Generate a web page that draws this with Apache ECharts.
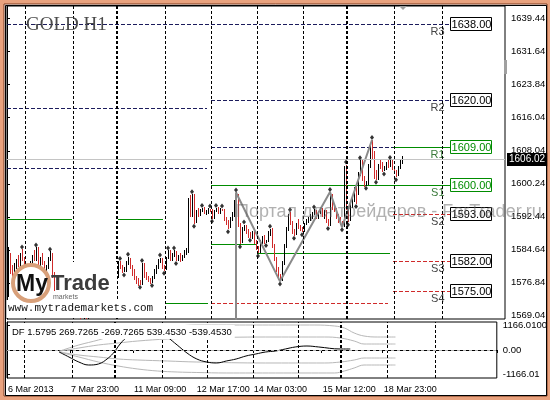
<!DOCTYPE html>
<html><head><meta charset="utf-8">
<script src="https://cdn.jsdelivr.net/npm/echarts@6/dist/echarts.min.js"></script>
<style>html,body{margin:0;padding:0;background:#fff}#c{width:550px;height:400px}</style>
</head><body><div id="c"></div><script>
// ---------- DATA ----------
const opens=[1575,1583,1580,1578.2,1581,1582,1581,1583.5,1582.5,1580,1578.5,1579.5,1581.5,1583,1582.5,1585,1581.5,1582.5,1581.5,1579,1580.5,1582.5,1583.5,1578.5,
1576,1575,1574,1573,1574,1573.5,1572,1573,1572.5,1571,1572,1570.5,1571,1565,1567,1569,1568.5,1570,1571.5,1570.5,1572,1573,1572.5,1574,1573.5,1575,1574.5,1576,1575,1576.5,1577,
1578.5,1581.5,1580.5,1579.5,1580,1581.8,1582.5,1580.5,1579,1578,1577,1576.8,1576.5,1581,1578.5,1578,1577.5,1577,1578,1579.5,1580.5,1582,1582.5,1580.5,1580,1582.8,1584.2,1582.5,1583.5,1584,1582.3,1583,1582.2,1583.2,1584,
1584.5,1596,1593,1597.5,1591.5,1593.5,1593,1594,1594.5,1593.4,1593.8,1594.2,1594,1592.3,1593.8,1594.5,1593.5,1594.2,1594,1592,1591,1590,1592,1593,1596,
1597.5,1590.5,1586.5,1589.5,1590.5,1589,1588,1587.8,1588.5,1586.3,1585,1584.3,1586.5,1587.5,1586.5,1586.7,1588.8,1589.5,1585.5,1582.5,1580,1578.2,
1577.5,1581.5,1585.5,1589.5,1592.5,1591,1589,1588.5,1590.5,1590,1589.5,1589,1590.8,1591.6,1592,1592.6,1593.2,1593.5,1592.5,1593.5,1594,1593,1593.5,1591.5,1590.5,1597.5,1594.5,1594,1592.5,1591.5,1591,
1590.3,1604,1594.5,1592,1595,1597,1599,1598,1602.5,1605.5,1601.5,1600,1600.2,1604.5,1609,1606.5,1602,1601.5,1604.5,1604.2,1603.5,1604,1605,1604.5,1605.5,1604,1603,1602.2,1604.2,1605.5];
const closes=[1583,1580,1578.2,1581,1582,1581,1583.5,1582.5,1580,1578.5,1579.5,1581.5,1583,1582.5,1585,1581.5,1582.5,1581.5,1579,1580.5,1582.5,1583.5,1578.5,1576,
1575,1574,1573,1574,1573.5,1572,1573,1572.5,1571,1572,1570.5,1571,1565,1567,1569,1568.5,1570,1571.5,1570.5,1572,1573,1572.5,1574,1573.5,1575,1574.5,1576,1575,1576.5,1577,1578.5,
1581.5,1580.5,1579.5,1580,1581.8,1582.5,1580.5,1579,1578,1577,1576.8,1576.5,1581,1578.5,1578,1577.5,1577,1578,1579.5,1580.5,1582,1582.5,1580.5,1580,1582.8,1584.2,1582.5,1583.5,1584,1582.3,1583,1582.2,1583.2,1584,1584.5,
1596,1593,1597.5,1591.5,1593.5,1593,1594,1594.5,1593.4,1593.8,1594.2,1594,1592.3,1593.8,1594.5,1593.5,1594.2,1594,1592,1591,1590,1592,1593,1596,1597.5,
1590.5,1586.5,1589.5,1590.5,1589,1588,1587.8,1588.5,1586.3,1585,1584.3,1586.5,1587.5,1586.5,1586.7,1588.8,1589.5,1585.5,1582.5,1580,1578.2,1577.5,
1581.5,1585.5,1589.5,1592.5,1591,1589,1588.5,1590.5,1590,1589.5,1589,1590.8,1591.6,1592,1592.6,1593.2,1593.5,1592.5,1593.5,1594,1593,1593.5,1591.5,1590.5,1597.5,1594.5,1594,1592.5,1591.5,1591,1590.3,
1604,1594.5,1592,1595,1597,1599,1598,1602.5,1605.5,1601.5,1600,1600.2,1604.5,1609,1606.5,1602,1601.5,1604.5,1604.2,1603.5,1604,1605,1604.5,1605.5,1604,1603,1602.2,1604.2,1605.5,1606.02];
const highs=[1585.2,1583.8,1581,1581.5,1582.5,1583.5,1584,1584.8,1583,1581,1580,1582,1583.5,1584.5,1585.3,1585.2,1583,1584,1582,1581,1583,1584.3,1584,1579.5,
1577,1576,1575,1574.8,1574.8,1574.2,1573.8,1573.6,1573.2,1572.8,1572.6,1571.8,1572,1567.8,1569.8,1570,1570.8,1572.2,1572.3,1572.8,1573.6,1573.8,1574.6,1574.8,1575.7,1575.8,1576.8,1576.7,1577.2,1577.6,1578.8,
1582,1582,1581,1580.5,1582,1583,1582.8,1581,1580,1578.5,1578,1577.5,1581.5,1581.5,1579.5,1578.5,1578,1578.5,1580,1581,1582.5,1582.8,1582.8,1581,1583,1584.5,1584.5,1584,1584.5,1584.3,1583.5,1583.8,1583.5,1584.5,1585,
1597,1597.5,1597.8,1597.8,1594,1594.5,1594.2,1594.6,1594.8,1594,1594.5,1594.4,1594.3,1594,1594.6,1594.8,1594.5,1594.4,1594.2,1592.5,1591.8,1592.5,1593.5,1596.5,1598.2,
1597.8,1591,1590,1590.6,1590.6,1589.5,1588.8,1589,1589,1587,1585.5,1587,1588,1588.2,1587,1589,1589.6,1589.7,1586,1583,1580.5,1579,
1582,1586,1590,1593,1593.5,1591.5,1589.5,1591,1592,1590.5,1590,1591,1592,1592.5,1593,1593.5,1594.2,1594,1593.8,1594.5,1594.5,1594,1594,1592,1598.3,1597.8,1595.5,1594.5,1593,1592.5,1591.5,
1604.5,1604.8,1595,1595.5,1597.5,1599.5,1600,1603,1605.8,1605.8,1602,1601,1605,1609.5,1610.6,1608,1603.5,1605,1606,1605.3,1604.5,1605.5,1606,1605.9,1605.8,1604.5,1603.5,1604.5,1606,1606.8];
const lows=[1573.5,1579,1577.5,1577.8,1580,1580.5,1580.2,1582,1579.5,1577.5,1577,1579,1580.5,1582,1582,1581,1580,1581,1578.5,1578,1580,1582,1578,1575,
1574.5,1573.4,1572.3,1572.4,1573,1571.5,1571.4,1572,1570.4,1570.5,1569.8,1570,1563.5,1562.8,1566.5,1568,1568,1569.4,1570,1570,1571.5,1572,1571.9,1573,1573,1574,1574,1574.5,1574.5,1576,1576.5,
1578,1580,1579.2,1579.3,1579.5,1581,1580,1578.5,1577.5,1576.5,1576,1576.4,1576.3,1578,1577.5,1577,1576.5,1576.8,1577.8,1579,1580,1581.5,1580,1579.7,1579.8,1582.5,1582,1582,1583,1582,1582,1581.8,1582,1582.8,1583.5,
1584,1592.5,1592.5,1590.8,1591,1592.5,1592.6,1593.5,1593,1592.8,1593.2,1593.5,1592,1592,1593.5,1593,1593,1593.8,1591.5,1590.5,1589.5,1589.8,1591.5,1592.5,1595.5,
1590,1586,1586.2,1589,1588.5,1587.5,1587.5,1587.3,1586,1584.5,1583.8,1584,1586,1586,1586.3,1586.5,1588,1585,1582,1579.5,1577.5,1577.2,
1577.3,1581,1585,1589,1590.5,1588.5,1588,1588.2,1589.5,1589,1588.8,1588.8,1590.5,1591,1591.5,1592,1592.8,1592,1592,1593,1592.5,1592,1591,1590.3,1590.3,1594,1593.5,1592,1591,1590.5,1590,
1590,1594,1591.2,1591.5,1594.5,1596,1595.5,1597.5,1602,1601,1599.5,1599.8,1600,1604,1606,1601.5,1601.2,1601.2,1603.8,1603,1603.2,1603.5,1604,1604.2,1603.5,1602.5,1601.8,1602,1603.8,1605];

const upFracBars=[7,14,21,56,60,67,76,80,83,92,97,101,104,107,114,118,131,141,153,161,169,176,182,191];
const upFracVals=[1585.3,1585.8,1584.8,1582.6,1583.6,1582.1,1583.4,1585.1,1585.1,1598.4,1595.1,1595.0,1595.1,1595.0,1598.8,1591.2,1590.2,1594.1,1594.8,1598.9,1605.4,1606.4,1611.2,1606.5];
const dnFracBars=[58,66,72,78,84,93,102,110,116,121,125,129,136,143,147,160,167,170,174,179,184,188,194];
const dnFracVals=[1578.7,1575.8,1576.2,1579.1,1581.4,1590.2,1591.4,1588.9,1585.4,1586.9,1583.2,1585.7,1576.6,1587.4,1588.2,1589.7,1589.4,1590.6,1594.9,1599.2,1600.6,1602.6,1601.2];

const zzBars=[114,114,136,161,167,182];
const zzVals=[1560,1598.2,1577.2,1598.3,1590.0,1610.6];

const levelNames=['R3','R2','R1','S1','S2','S3','S4'];
const levelPrices=[1638.00,1620.00,1609.00,1600.00,1593.00,1582.00,1575.00];
const levelKinds=['res','res','piv','piv','sup','sup','sup'];
const levelStart=[0,102,193,102,193,193,193];
const levelEnd=221.5;

// older day segments: [from, to, price, kind]
const pastLevels=[[0,100,1618.17,'res'],[0,100,1603.99,'res'],[102,193,1609.0,'res'],
 [0,32.5,1591.93,'piv'],[55.5,78,1591.93,'piv'],[79.5,100.5,1572.08,'piv'],
 [102,124.5,1586.03,'piv'],[125,191.5,1583.9,'piv'],[102,190.5,1572.08,'sup']];
const lastPrice=1606.02;
const separators=[9,33,54.5,55.15,79,102,125,148,169.5,170.15,193.5,217.5];

const yTicks=[1569.04,1576.84,1584.64,1592.44,1600.24,1608.04,1616.04,1623.84,1631.64,1639.44];
const xLabels=['6 Mar 2013','7 Mar 23:00','11 Mar 09:00','12 Mar 17:00','14 Mar 03:00','15 Mar 12:00','18 Mar 23:00'];
const xLabelBars=[0,32,64,96,125,160,191];

const dfTicks=[1166.01,0,-1166.01];
const dfTickLabels=['1166.0100','0.00','-1166.01'];
const dfBlackBars=[26,31,36,41,46,51,54,57,61,66,71,76,81,86,91,96,101,106,111,116,121,126,131,136,141,146,152,158,169,174];
const dfBlackVals=[-95,-333,-571,-714,-666,-381,-95,285,666,951,1047,951,618,238,-143,-428,-571,-618,-523,-428,-285,-190,-95,-48,48,143,190,143,48,48];
const dfUp1Bars=[26,36,46,56,66,76,86,96,111,136,146,156,166,171,176,181,188,197];
const dfUp1Vals=[-60,238,476,761,951,1094,1142,1189,1189,1189,1189,1189,1142,1047,809,666,618,618];
const dfUp2Bars=[26,36,46,56,66,81,96,131,161,169,176,181,197];
const dfUp2Vals=[-60,95,238,333,428,523,571,618,618,571,428,285,285];
const dfDn1Bars=[26,36,46,56,66,81,96,131,161,169,176,181,197];
const dfDn1Vals=[-95,-238,-333,-428,-476,-523,-571,-618,-618,-571,-476,-381,-381];
const dfDn2Bars=[26,36,46,56,66,76,86,96,111,136,166,171,176,181,197];
const dfDn2Vals=[-95,-333,-571,-761,-904,-999,-1047,-1070,-1094,-1094,-1094,-999,-856,-714,-714];
const dfText='DF 1.5795 269.7265 -269.7265 539.4530 -539.4530';

// ---------- BUILD ----------
const NS=249;
const cats=[];for(let i=0;i<NS;i++)cats.push(String(i));
const bars=opens.map((o,i)=>[i,o,closes[i],lows[i],highs[i]]);
const pairs=(b,v)=>b.map((x,k)=>[x,v[k]]);
const NAVY='#1c1c5c',GREEN='#008c00',RED='#d02a2a';
const FONT='"Liberation Sans", Arial, sans-serif';
const KINDS=['res','sup','piv'];
const kindStyle={res:{color:NAVY,dash:[4,2]},sup:{color:RED,dash:[4,2]},piv:{color:GREEN,dash:null}};

// level data rows: [x1, x2, price, kindIdx, isCurrent, nameIdx]
const levelData=[];
pastLevels.forEach(s=>levelData.push([s[0],s[1],s[2],KINDS.indexOf(s[3]),0,-1]));
levelPrices.forEach((p,k)=>levelData.push([levelStart[k],levelEnd,p,KINDS.indexOf(levelKinds[k]),1,k]));

function renderLevel(params,api){
  const x1=api.value(0),x2=api.value(1),p=api.value(2),kind=KINDS[api.value(3)],cur=api.value(4),k=api.value(5);
  const a=api.coord([x1,p]),b=api.coord([x2,p]);
  const y=Math.round(a[1])+0.5;
  const st=kindStyle[kind];
  const ch=[{type:'line',shape:{x1:Math.round(a[0]),y1:y,x2:Math.round(b[0]),y2:y},style:{stroke:st.color,lineWidth:1,lineDash:st.dash}}];
  if(cur){
    const isG=kind==='piv';
    const bx=Math.round(b[0])+0.5;
    ch.push({type:'rect',shape:{x:bx,y:y-7,width:41,height:13},style:{fill:'#fff',stroke:isG?GREEN:'#000',lineWidth:1}});
    ch.push({type:'text',x:bx+21,y:y,style:{text:p.toFixed(2),fill:isG?GREEN:'#000',font:'11px '+FONT,align:'center',verticalAlign:'middle'}});
    ch.push({type:'text',x:bx-6,y:y+2,style:{text:levelNames[k],fill:isG?'#3a7a3a':'#444',font:'11px '+FONT,align:'right',verticalAlign:'top'}});
  }
  return {type:'group',children:ch};
}

function renderBar(params,api){
  const i=api.value(0),o=api.value(1),c=api.value(2),l=api.value(3),h=api.value(4);
  const cs=params.coordSys;
  const ph=api.coord([i,h]),pl=api.coord([i,l]);
  const top=Math.max(ph[1],cs.y),bot=Math.min(pl[1],cs.y+cs.height);
  if(bot<=top)return null;
  const x=Math.round(ph[0])+0.5;
  return {type:'line',shape:{x1:x,y1:Math.round(top),x2:x,y2:Math.round(bot)+0.01},style:{stroke:c>=o?'#000':RED,lineWidth:1}};
}

const sepLines=separators.map(v=>({xAxis:v}));
const sepStyle={color:'#000',type:[3,2],width:1};

const option={
  animation:false,
  grid:[
    {left:7,top:6,width:498,height:313,show:true,borderColor:'#000',borderWidth:1,backgroundColor:'transparent'},
    {left:7,top:322,width:498,height:56,show:true,borderColor:'#000',borderWidth:1,backgroundColor:'transparent'}
  ],
  xAxis:[
    {type:'category',gridIndex:0,data:cats,boundaryGap:true,axisLine:{show:false},axisTick:{show:false},axisLabel:{show:false},splitLine:{show:false}},
    {type:'category',gridIndex:1,data:cats,boundaryGap:true,axisLine:{show:true,lineStyle:{color:'#000'}},
      axisTick:{show:true,interval:(i)=>xLabelBars.indexOf(i)>=0,length:3,lineStyle:{color:'#000'}},
      axisLabel:{show:true,interval:(i)=>xLabelBars.indexOf(i)>=0,formatter:(v,i)=>{const k=xLabelBars.indexOf(+v);return k>=0?xLabels[k]:'';},
        align:'left',fontFamily:FONT,fontSize:9,color:'#000',margin:7},splitLine:{show:false}},
    {type:'value',gridIndex:0,min:0,max:NS,show:false},
    {type:'value',gridIndex:1,min:0,max:NS,show:false}
  ],
  yAxis:[
    {type:'value',gridIndex:0,position:'right',min:1568.30,max:1642.28,scale:true,splitLine:{show:false},
      axisLine:{show:true,lineStyle:{color:'#000'}},
      axisTick:{show:true,customValues:yTicks,length:3,lineStyle:{color:'#000'}},
      axisLabel:{show:true,customValues:yTicks,formatter:(v)=>v.toFixed(2),fontFamily:FONT,fontSize:9.5,color:'#000',margin:6}},
    {type:'value',gridIndex:1,position:'right',min:-1332,max:1332,splitLine:{show:false},
      axisLine:{show:true,lineStyle:{color:'#000'}},
      axisTick:{show:true,customValues:dfTicks,length:3,lineStyle:{color:'#000'}},
      axisLabel:{show:true,customValues:dfTicks,formatter:(v)=>{let b=0;dfTicks.forEach((t,k)=>{if(Math.abs(t-v)<Math.abs(dfTicks[b]-v))b=k;});return dfTickLabels[b];},fontFamily:FONT,fontSize:9.5,color:'#000',margin:6}}
  ],
  series:[
    {type:'line',xAxisIndex:2,yAxisIndex:0,data:[],z:1,silent:true,
      markLine:{silent:true,symbol:['none','none'],animation:false,data:[{yAxis:lastPrice,lineStyle:{color:'#c4c4c4',type:'solid',width:1},
        label:{show:true,position:'end',distance:2,formatter:lastPrice.toFixed(2),fontFamily:FONT,fontSize:10,color:'#fff',backgroundColor:'#000',padding:[2,2,1,2]}}]}},
    {type:'custom',xAxisIndex:2,yAxisIndex:0,data:levelData,renderItem:renderLevel,clip:false,z:1,silent:true,encode:{x:[0,1],y:2}},
    {type:'line',xAxisIndex:2,yAxisIndex:0,data:[],z:1,silent:true,
      markLine:{silent:true,symbol:['none','none'],animation:false,label:{show:false},lineStyle:sepStyle,data:sepLines}},
    {type:'line',xAxisIndex:3,yAxisIndex:1,data:[],z:1,silent:true,
      markLine:{silent:true,symbol:['none','none'],animation:false,label:{show:false},lineStyle:sepStyle,data:sepLines}},
    {type:'custom',xAxisIndex:0,yAxisIndex:0,data:bars,renderItem:renderBar,clip:true,z:3,encode:{x:0,y:[1,2,3,4]}},
    {type:'line',xAxisIndex:0,yAxisIndex:0,data:pairs(zzBars,zzVals),symbol:'none',clip:true,z:4,
      lineStyle:{color:'#8a8a8a',width:2}},
    {type:'scatter',xAxisIndex:0,yAxisIndex:0,data:pairs(upFracBars,upFracVals),symbol:'diamond',symbolSize:[4,5],z:5,itemStyle:{color:'#000'}},
    {type:'scatter',xAxisIndex:0,yAxisIndex:0,data:pairs(dnFracBars,dnFracVals),symbol:'diamond',symbolSize:[4,5],z:5,itemStyle:{color:'#000'}},
    {type:'line',xAxisIndex:1,yAxisIndex:1,data:pairs(dfUp1Bars,dfUp1Vals),smooth:0.4,symbol:'none',z:3,lineStyle:{color:'#b8b8b8',width:1}},
    {type:'line',xAxisIndex:1,yAxisIndex:1,data:pairs(dfUp2Bars,dfUp2Vals),smooth:0.4,symbol:'none',z:3,lineStyle:{color:'#b8b8b8',width:1}},
    {type:'line',xAxisIndex:1,yAxisIndex:1,data:pairs(dfDn1Bars,dfDn1Vals),smooth:0.4,symbol:'none',z:3,lineStyle:{color:'#b8b8b8',width:1}},
    {type:'line',xAxisIndex:1,yAxisIndex:1,data:pairs(dfDn2Bars,dfDn2Vals),smooth:0.4,symbol:'none',z:3,lineStyle:{color:'#b8b8b8',width:1}},
    {type:'line',xAxisIndex:1,yAxisIndex:1,data:pairs(dfBlackBars,dfBlackVals),smooth:0.4,symbol:'none',z:4,lineStyle:{color:'#000',width:1},
      markLine:{silent:true,symbol:['none','none'],animation:false,label:{show:false},data:[{yAxis:0,lineStyle:{color:'#b0b0b0',type:[3,3],width:1}}]}}
  ],
  graphic:[
    {type:'rect',z:-100,silent:true,shape:{x:0,y:0,width:550,height:400},style:{fill:'#e9a27e'}},
    {type:'rect',z:-99,silent:true,shape:{x:4,y:4,width:543,height:392},style:{fill:'#ffffff',stroke:'#7a3a20',lineWidth:1}},
    {type:'rect',z:-98,silent:true,shape:{x:5.5,y:5.5,width:541,height:390},style:{fill:'none',stroke:'#000',lineWidth:1}},
    {type:'polygon',z:20,silent:true,shape:{points:[[399,6],[407,6],[403,10]]},style:{fill:'#a0a0a0'}},
    {type:'rect',z:20,silent:true,shape:{x:504,y:60,width:3,height:14},style:{fill:'#a0a0a0'}},
    {type:'text',z:20,silent:true,style:{text:'GOLD H1',x:26,y:25,verticalAlign:'middle',fill:'#4a4a4a',font:'19px "Liberation Serif", "Times New Roman", serif'}},
    {type:'text',z:20,silent:true,style:{text:'Портал для трейдеров - ForTrader.ru',x:236,y:212,verticalAlign:'middle',fill:'rgba(100,100,100,0.5)',font:'18px "Liberation Sans", "Noto Sans", sans-serif'}},
    {type:'rect',z:20,silent:true,shape:{x:55,y:262,width:62,height:38},style:{fill:'#fff'}},
    {type:'rect',z:20,silent:true,shape:{x:6.5,y:300,width:149,height:18},style:{fill:'#fff'}},
    {type:'circle',z:21,silent:true,shape:{cx:31,cy:283,r:18},style:{fill:'#fff',stroke:'#d8a07a',lineWidth:4}},
    {type:'text',z:22,silent:true,style:{text:'My',x:16,y:285,verticalAlign:'middle',fill:'#111',font:'bold 23px "Liberation Sans", Arial, sans-serif'}},
    {type:'text',z:22,silent:true,style:{text:'Trade',x:51,y:284,verticalAlign:'middle',fill:'#3c3c3c',font:'bold 22px "Liberation Sans", Arial, sans-serif'}},
    {type:'text',z:22,silent:true,style:{text:'markets',x:53,y:297,verticalAlign:'middle',fill:'#666',font:'7px "Liberation Sans", Arial, sans-serif'}},
    {type:'text',z:22,silent:true,style:{text:'www.mytrademarkets.com',x:8,y:308,verticalAlign:'middle',fill:'#111',font:'11px "Liberation Mono", "DejaVu Sans Mono", monospace'}},
    {type:'text',z:22,silent:true,style:{text:dfText,x:10,y:332,verticalAlign:'middle',fill:'#000',backgroundColor:'#fff',padding:[2,3,2,2],font:'9.5px "Liberation Sans", Arial, sans-serif'}}
  ]
};
const chart=echarts.init(document.getElementById('c'),null,{renderer:'canvas',width:550,height:400});
chart.setOption(option);
</script></body></html>
